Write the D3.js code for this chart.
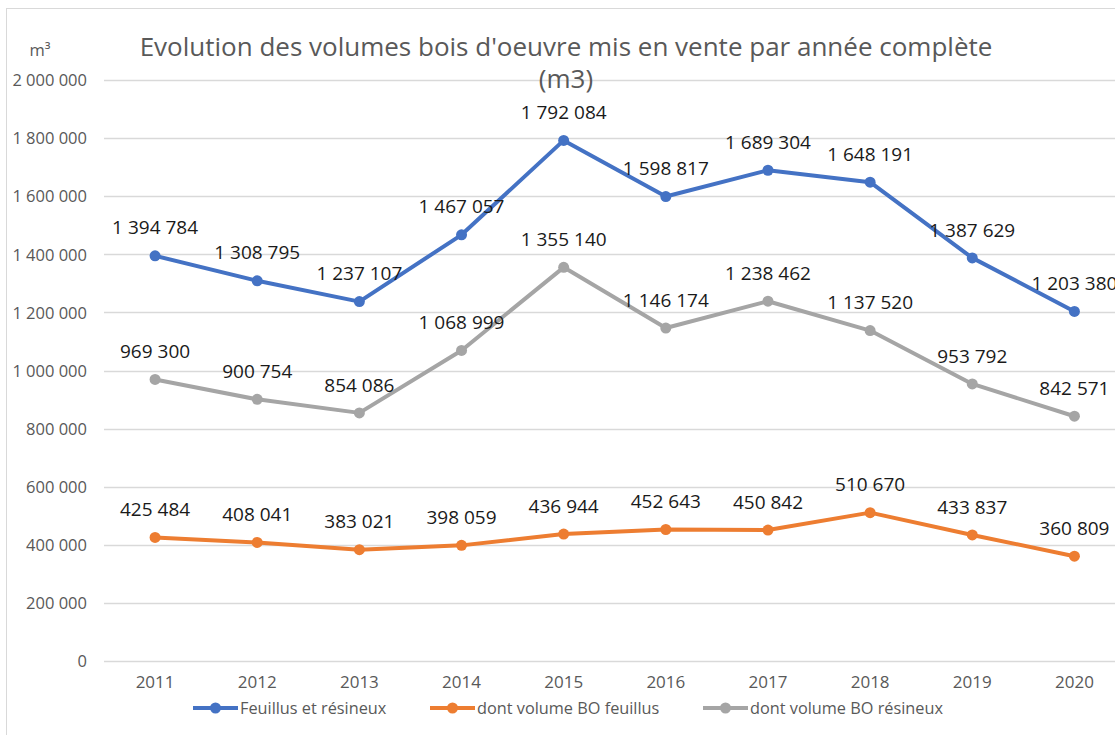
<!DOCTYPE html>
<html><head><meta charset="utf-8">
<script src="https://cdn.jsdelivr.net/npm/d3@7"></script>
<style>body{margin:0;background:#fff}svg{display:block}</style>
</head><body>
<svg id="c" width="1115" height="735"></svg>
<script>
const years = ["2011","2012","2013","2014","2015","2016","2017","2018","2019","2020"];
const total = [1394784,1308795,1237107,1467057,1792084,1598817,1689304,1648191,1387629,1203380];
const feuillus = [425484,408041,383021,398059,436944,452643,450842,510670,433837,360809];
const resineux = [969300,900754,854086,1068999,1355140,1146174,1238462,1137520,953792,842571];
const seriesNames = ["Feuillus et résineux","dont volume BO feuillus","dont volume BO résineux"];
const yTicks = [0,200000,400000,600000,800000,1000000,1200000,1400000,1600000,1800000,2000000];

const colors = ["#4472C4","#ED7D31","#A5A5A5"];
const series = [total, feuillus, resineux];
const fmt = d3.formatLocale({decimal:",",thousands:" ",grouping:[3],currency:["","€"]}).format(",d");

const svg = d3.select("#c");
const font = "'Open Sans', sans-serif";

// frame
svg.append("rect").attr("x",6.5).attr("y",8.5).attr("width",1122).attr("height",760)
  .attr("fill","none").attr("stroke","#D9D9D9").attr("stroke-width",1);

const x = d3.scaleBand().domain(years).range([104,1125.5]);
const y = d3.scaleLinear().domain([0,2000000]).range([661,80]);

// grid
svg.append("g").selectAll("line").data(yTicks).join("line")
  .attr("x1",104).attr("x2",1115).attr("y1",d=>Math.round(y(d))+0.5).attr("y2",d=>Math.round(y(d))+0.5)
  .attr("stroke","#D9D9D9").attr("stroke-width",1.3);

// y axis labels
const yAxis = d3.axisLeft(y).tickValues(yTicks).tickFormat(fmt).tickSize(0).tickPadding(0);
const ya = svg.append("g").attr("transform","translate(87,0)").call(yAxis);
ya.select(".domain").remove();
ya.selectAll("text").attr("font-family",font).attr("font-size",16.5).attr("fill","#595959").attr("dy","0.35em");

// x axis labels
const xAxis = d3.axisBottom(x).tickSize(0).tickPadding(0);
const xa = svg.append("g").attr("transform","translate(0,676)").call(xAxis);
xa.select(".domain").remove();
xa.selectAll("text").attr("font-family",font).attr("font-size",17).attr("fill","#595959").attr("dy","0.71em");

// title
svg.append("text").attr("x",566).attr("y",56).attr("text-anchor","middle")
  .attr("font-family",font).attr("font-size",26).attr("fill","#595959")
  .text("Evolution des volumes bois d'oeuvre mis en vente par année complète");
svg.append("text").attr("x",566).attr("y",88).attr("text-anchor","middle")
  .attr("font-family",font).attr("font-size",26).attr("fill","#595959").text("(m3)");
svg.append("text").attr("x",40).attr("y",56).attr("text-anchor","middle")
  .attr("font-family",font).attr("font-size",16.5).attr("fill","#595959").text("m³");

const cx = d => x(d) + x.bandwidth()/2;
const line = d3.line().x((d,i)=>cx(years[i])).y(d=>y(d));

series.forEach((s,k)=>{
  const g = svg.append("g");
  g.append("path").datum(s).attr("d",line).attr("fill","none")
    .attr("stroke",colors[k]).attr("stroke-width",4).attr("stroke-linejoin","round").attr("stroke-linecap","round");
  g.selectAll("circle").data(s).join("circle")
    .attr("cx",(d,i)=>cx(years[i])).attr("cy",d=>y(d)).attr("r",5.5).attr("fill",colors[k]);
});
series.forEach((s,k)=>{
  svg.append("g").selectAll("text").data(s).join("text")
    .attr("x",(d,i)=>cx(years[i])).attr("y",d=>y(d)-28).attr("dy","0.35em")
    .attr("text-anchor","middle").attr("font-family",font).attr("font-size",19).attr("fill","#1a1a1a")
    .text(d=>fmt(d));
});

// legend
const legX = [193,430,703];
seriesNames.forEach((n,k)=>{
  const g = svg.append("g").attr("transform",`translate(${legX[k]},708)`);
  g.append("line").attr("x1",0).attr("x2",45).attr("y1",0).attr("y2",0).attr("stroke",colors[k]).attr("stroke-width",4);
  g.append("circle").attr("cx",22.5).attr("cy",0).attr("r",5.5).attr("fill",colors[k]);
  g.append("text").attr("x",47).attr("y",0).attr("dy","0.35em").attr("font-family",font)
    .attr("font-size",16.3).attr("fill","#595959").text(n);
});
</script>
</body></html>
